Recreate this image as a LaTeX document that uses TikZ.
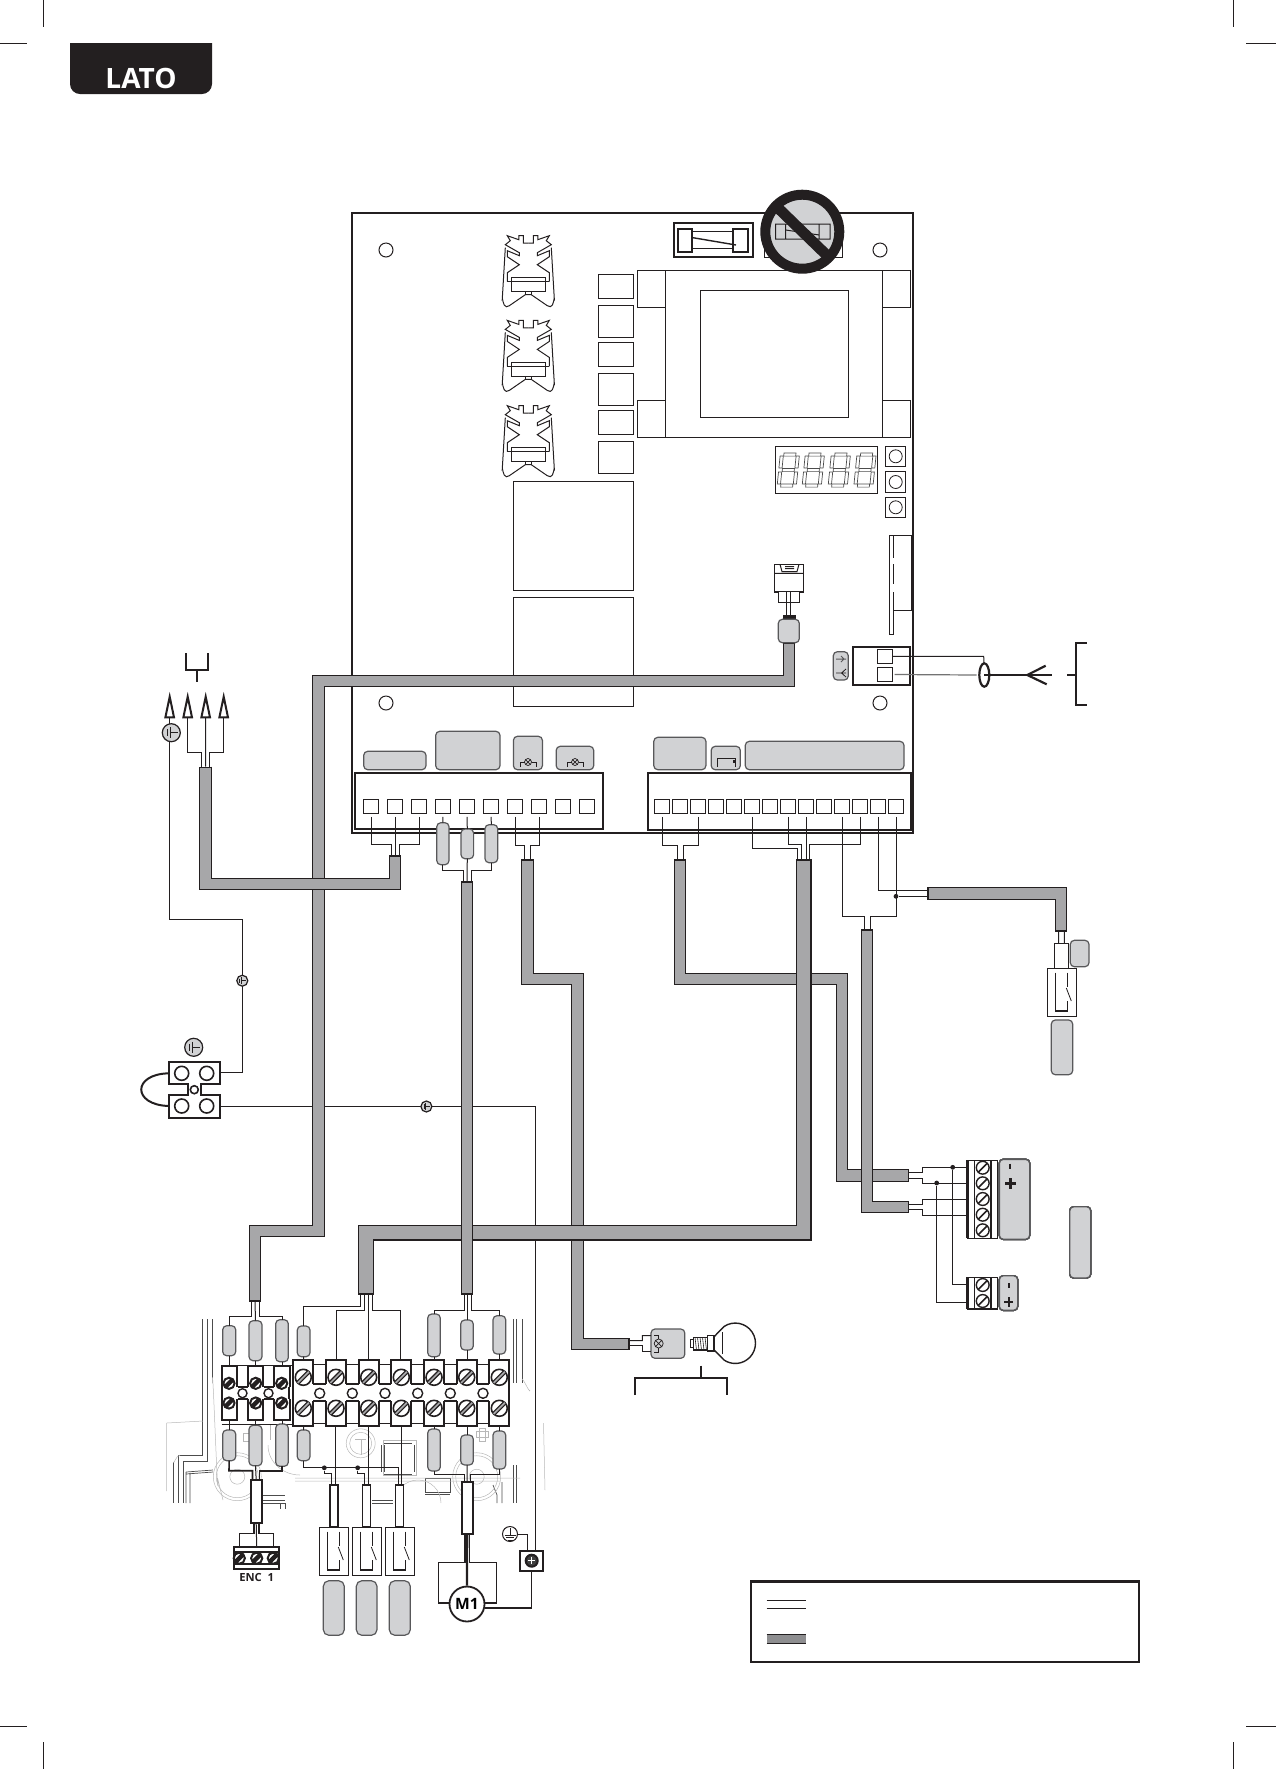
\documentclass[tikz,border=0pt]{standalone}
\usepackage{fontspec}
\setsansfont{Open Sans}
\usetikzlibrary{calc}
\definecolor{inkblack}{HTML}{231F20}
\definecolor{cablegrey}{HTML}{A7A7A9}
\definecolor{pillgrey}{HTML}{D1D2D4}
\definecolor{pillline}{HTML}{58585A}
\tikzset{
  thinbox/.style={draw=inkblack,line width=0.5pt,fill=white},
  heavybox/.style={draw=inkblack,line width=1.1pt,fill=white},
  pill/.style={draw=pillline,fill=pillgrey,line width=0.6pt,rounded corners=2pt},
  wire/.style={draw=inkblack,line width=0.5pt},
  heavywire/.style={draw=inkblack,line width=1.1pt},
  ghost/.style={draw=black!28,line width=0.25pt},
  ghostdark/.style={draw=black!70,line width=0.35pt},
  joint/.style={circle,fill=inkblack,inner sep=0pt,minimum size=2.4pt},
}
% box from its two corners, in pixels of the sheet
\newcommand{\boxat}[6]{\node[#1,inner sep=0pt,outer sep=0pt,minimum width={(#5-#3)*0.5pt},minimum height={(#6-#4)*0.5pt}] (#2) at ({(#3+#5)/2},{(#4+#6)/2}) {};}
% sheathed cable: dark body, then the grey fill
\newcommand{\cable}[2][6.4pt]{%
  \draw[inkblack,line width=#1,line join=miter] #2;
  \draw[cablegrey,line width=#1-1.1pt,line join=miter,shorten <=0.8pt,shorten >=0.8pt] #2;}
% one core from a terminal into a cable end
\newcommand{\drop}[5][wire]{\draw[#1] (#2) |- ($(#3)+(#4,#5)$) -- ($(#3)+(#4,0)$);}
\newcommand{\heatsink}[2]{%
  \begin{scope}[shift={(#1,#2)}]
    \foreach \s in {1,-1} {
      \draw[wire,xscale=\s] (0,7.5) -- (5,7.5) -- (5,0) -- (9.5,0) -- (9.5,4) -- (21,0) -- (18,5) -- (23,9)
        -- (9,17) -- (9,20) -- (21,15) -- (21,21) -- (9,29) -- (21,37) -- (21,46);
      \draw[wire,xscale=\s] (23,12) -- (26,63) to[out=90,in=0] (22,71) -- (19,70) -- (3,59) -- (0,59);
    }
    \draw[wire] (-21,46) -- (21,46);
    \draw[wire] (-17,42) rectangle (17,56);
    \draw[wire] (-3,56) rectangle (3,59);
  \end{scope}}
% display digit, seven outlined segments
\newcommand{\segdigit}[2]{%
  \begin{scope}[shift={(#1,#2)},xslant=0.1]
    \foreach \y in {-15.5,0,15.5} \draw[ghostdark] (-6,\y-1.6) rectangle (6,\y+1.6);
    \foreach \x in {-8,8} \foreach \y in {-8,8} \draw[ghostdark] (\x-1.6,\y-6) rectangle (\x+1.6,\y+6);
  \end{scope}}
\newcommand{\fatscrew}[2]{%
  \draw[inkblack,line width=0.8pt,fill=white] (#1,#2) circle (8);
  \draw[inkblack,line width=2.2pt] (#1-5.6,#2+5.6) -- (#1+5.6,#2-5.6);
  \draw[cablegrey,line width=0.8pt] (#1-5.6,#2+5.6) -- (#1+5.6,#2-5.6);}
\newcommand{\darkscrew}[2]{%
  \draw[inkblack,line width=1pt,fill=white] (#1,#2) circle (5.6);
  \draw[inkblack,line width=2.2pt] (#1-4,#2+4) -- (#1+4,#2-4);}
\newcommand{\thinscrew}[2]{%
  \draw[inkblack,line width=0.7pt,fill=white] (#1,#2) circle (6.4);
  \draw[inkblack,line width=0.8pt] (#1-4.5,#2+4.5) -- (#1+4.5,#2-4.5);}
\newcommand{\lampmark}[2]{%
  \draw[wire,line width=0.35pt] (#1-8,#2+5) -- (#1-8,#2) -- (#1-3.5,#2) (#1+3.5,#2) -- (#1+8,#2) -- (#1+8,#2+5);
  \draw[wire,line width=0.35pt] (#1,#2) circle (3.5) (#1-2.5,#2-2.5) -- (#1+2.5,#2+2.5) (#1-2.5,#2+2.5) -- (#1+2.5,#2-2.5);}
\newcommand{\earthmark}[3]{%
  \draw[inkblack,line width=0.6pt,fill=pillgrey] (#1,#2) circle (#3);
  \draw[inkblack,line width=0.4pt] (#1-0.45*#3,#2-0.4*#3) -- (#1-0.45*#3,#2+0.4*#3) (#1-0.15*#3,#2-0.6*#3) -- (#1-0.15*#3,#2+0.6*#3) (#1-0.15*#3,#2) -- (#1+0.7*#3,#2);}
\newcommand{\contact}[3]{%
  \begin{scope}[shift={(#2,#3)}]
    \boxat{thinbox}{#1}{0}{0}{29.4}{48.7}
    \draw[wire,line width=0.6pt] (8,4.7) -- (8,43) -- (20,43) -- (20,33) (20,4.7) -- (20,19);
    \draw[wire,line width=0.4pt] (19,20) -- (24,33);
  \end{scope}}
\begin{document}
\begin{tikzpicture}[x=0.5pt,y=-0.5pt]
\useasboundingbox (0,0) rectangle (1276,1769);
% crop marks
\foreach \x in {43,1233} {
  \draw[wire] (\x,0) -- (\x,27);
  \draw[wire] (\x,1742) -- (\x,1769);
}
\foreach \y in {43,1726} {
  \draw[wire] (0,\y) -- (27,\y);
  \draw[wire] (1246,\y) -- (1276,\y);
}
% side tab
\fill[inkblack] (70,43) -- (212,43) -- (212,84) arc[start angle=0,end angle=90,radius=10] -- (80,94) arc[start angle=90,end angle=180,radius=10] -- cycle;
\node[white,font=\sffamily\bfseries\fontsize{14}{15}\selectfont] (sidetab) at (141,78) {LATO};

% board
\draw[wire,line width=0.6pt] (352,213) rectangle (913,833);
\foreach \x in {386,880} \foreach \y in {250,703} \draw[wire] (\x,\y) circle (7);
% fuses
\boxat{heavybox,line width=1pt}{fuseA}{674.3}{223}{753.3}{257}
\draw[inkblack,line width=1pt] (678,229) rectangle (692,252) (733,229) rectangle (748,252);
\draw[wire] (692,231) -- (733,231) (692,248) -- (733,248);
\draw[inkblack,line width=0.7pt] (693,237.7) -- (736,245);
\boxat{thinbox}{fuseB}{764}{223}{842}{257}
\draw[inkblack,line width=5pt,fill=pillgrey] (802.3,231.7) circle (37);
\draw[wire] (775.7,224) rectangle (830,239) (785.7,224) -- (785.7,239) (819,224) -- (819,239) (785.7,230) -- (819.3,235);
\draw[inkblack,line width=5.4pt] (776.7,206.7) -- (828.3,256.7);
% transformer
\draw[wire] (665,307.5) -- (637.5,307.5) -- (637.5,270) -- (910,270) -- (910,307.5) -- (882,307.5);
\draw[wire] (665,400) -- (637.5,400) -- (637.5,437) -- (910,437) -- (910,400) -- (882,400);
\draw[wire] (665,270) -- (665,437) (882,270) -- (882,437);
\boxat{thinbox}{core}{700}{290}{848}{417.5}
% relays and heat sinks
\foreach \a/\b [count=\i] in {274/298.6,305/337.5,342.5/366.8,373/405.7,410.4/434.6,441.4/473.6} {
  \boxat{thinbox}{relay\i}{598}{\a}{633}{\b}
}
\boxat{thinbox}{bigrelayA}{513}{481.4}{633}{590.7}
\boxat{thinbox}{bigrelayB}{513}{597.5}{633}{706.4}
\heatsink{528.3}{235.7}
\heatsink{528.3}{320.4}
\heatsink{528.3}{405.7}
% display and keys
\boxat{thinbox}{display}{775.3}{446}{877.7}{493.3}
\foreach \x in {788.3,813.3,839.3,865} \segdigit{\x}{470}
\foreach \y [count=\i] in {456.3,482,507.3} {
  \boxat{thinbox,line width=0.4pt}{key\i}{885.7}{(\y-10.2)}{905.7}{(\y+10.2)}
  \draw[wire,line width=0.4pt] (895.7,\y) circle (6.5);
}
% slot on the right
\draw[wire] (893.3,535) -- (911.7,535) -- (911.7,610.3) -- (893.3,610.3);
\draw[thinbox] (889.3,535) rectangle (893.3,634);
\draw[white,line width=0.7pt] (893.3,558) -- (893.3,564) (893.3,584) -- (893.3,592);
% service connector
\boxat{thinbox,line width=0.8pt}{plug}{774.3}{564.3}{803.3}{591.7}
\draw[wire] (774.3,573.3) -- (803.3,573.3) (780,564.3) -- (782,571.5) -- (797,571.5) -- (799,564.3) (785,566.5) -- (794,566.5) (785,568.5) -- (794,568.5);
\boxat{thinbox}{plugfoot}{778.3}{591.7}{799.3}{602.3}
\draw[wire] (786,591.7) -- (786,615.3) (790.7,591.7) -- (790.7,615.3);
% blocks on the board
\boxat{heavybox}{blockL}{355.3}{772.7}{603.3}{829.3}
\boxat{heavybox}{blockR}{647.7}{772.7}{910.6}{830.3}
\foreach \i in {1,...,10} {
  \node[thinbox,inner sep=0pt,outer sep=0pt,minimum width=7.2pt,minimum height=7.2pt] (L\i) at ({371+24*(\i-1)},806.5) {};
}
\foreach \i in {1,...,14} {
  \node[thinbox,inner sep=0pt,outer sep=0pt,minimum width=7.6pt,minimum height=7.2pt] (R\i) at ({662+18*(\i-1)},806.5) {};
}
\boxat{pill}{tagA}{363.7}{751.3}{426}{769.7}
\boxat{pill}{tagB}{435.7}{731.3}{500}{769.7}
\boxat{pill}{tagC}{513.4}{736.3}{542.4}{769.7}
\boxat{pill}{tagD}{556.2}{746.3}{593.7}{769.7}
\boxat{pill}{tagE}{653.8}{737.3}{705.9}{769.7}
\boxat{pill}{tagF}{711.2}{746.3}{740.3}{769.7}
\boxat{pill}{tagG}{745.3}{741.3}{904}{769.7}
\lampmark{528}{762}
\lampmark{575}{762}
\draw[wire,line width=0.4pt] (717,767) -- (717,758) -- (735,758) -- (735,767);
\fill[inkblack] (733,760) rectangle (736,763);
% mains inlet
\boxat{heavybox}{inlet}{852.7}{646.7}{910}{685}
\boxat{thinbox}{inletA}{877.3}{649.3}{892.7}{663.3}
\boxat{thinbox}{inletB}{877.3}{667.3}{892.7}{681.7}
\boxat{pill}{inletTag}{833.3}{651.7}{848.3}{680}
\draw[pillline,line width=0.5pt] (836,659) -- (846,659) (841,656) -- (844,659) -- (841,662);
\draw[inkblack,line width=0.4pt] (836,673) -- (846,673) (846,669) -- (841.5,673) -- (846,677);
\coordinate (sleeve) at (984.3,675);
\draw[wire] (inletA.east) -- ++(91,0) -- (984,663.3);
\draw[black!55,line width=0.6pt] (inletB.east) ++(2,0) -- (976.7,675);
\draw[inkblack,line width=1.1pt] (sleeve) ellipse (5 and 11.7);
\draw[heavywire] (sleeve) -- (1051.7,675);
\draw[heavywire,line join=miter] (1045.7,665.7) -- (1027.3,675) -- (1046.7,684.3);
\draw[heavywire] (1067.3,675) -- (1076,675) (1086.7,642.7) -- (1076,642.7) -- (1076,705.3) -- (1086.7,705.3);

% ghost outline of the gear plate
\foreach \x in {202.3,207.3,212.3,513.3,516,522.3} \draw[ghostdark] (\x,1319) -- (\x,1383);
\draw[ghostdark] (202.3,1383) -- (202.3,1455) -- (178.3,1455) -- (178.3,1503);
\draw[ghostdark] (207.3,1383) -- (207.3,1461) -- (183,1461) -- (183,1503);
\draw[ghostdark] (173.3,1462) -- (173.3,1503);
\draw[ghost] (173.3,1462) to[out=270,in=180] (180,1455);
\draw[ghost] (166.7,1491) -- (166.7,1423) -- (203,1421);
\draw[ghost] (212.3,1383) to[out=90,in=270] (218,1480) -- (223,1500);
\draw[ghostdark] (186,1472) -- (213,1470) (186,1474) -- (213,1472) (186,1472) -- (186,1503) (190,1473) -- (190,1503);
\draw[ghostdark] (263,1495) -- (285,1495) (263,1500) -- (285,1500) (263,1503) -- (285,1503) -- (285,1509) (280,1503) -- (280,1509);
\draw[ghostdark] (513.3,1465) -- (513.3,1503) (516,1465) -- (516,1503);
\draw[ghostdark] (493,1485) -- (497,1495) -- (497,1503) (502,1482) -- (502,1503);
\draw[ghost] (522,1380) to[out=90,in=270] (530,1390) (543.5,1423) -- (545,1490);
\foreach \x in {237.3,476.7} {
  \draw[ghost] (\x,1476.7) circle (7.5) circle (21) circle (24);
}
\draw[ghost] (360.7,1443.3) circle (11) circle (14.5);
\draw[ghost] (355,1439) -- (366,1439) (361,1439) -- (361,1455);
\draw[ghost] (383,1440) rectangle (416,1475);
\draw[ghostdark] (381,1445) -- (381,1472) (384,1445) -- (384,1472) (414,1445) -- (414,1472) (384,1443) -- (412,1443) (384,1474) -- (412,1474);
\draw[ghostdark] (425,1478) rectangle (450,1492) (425,1494) -- (450,1494);
\draw[ghost] (476,1431) rectangle (488,1437) (479,1428) rectangle (485,1441);
\draw[ghost] (270,1424) -- (270,1440) (243,1433) -- (250,1433) (243,1433) -- (243,1441) -- (250,1441);
\draw[ghost] (268,1445) to[out=270,in=180] (300,1475) (295,1478) -- (520,1478) (295,1481) -- (500,1481);
\draw[ghost] (395,1503) arc[start angle=180,end angle=360,radius=23];
\draw[ghostdark] (372,1500) -- (393,1500) (372,1503) -- (393,1503);

% earth wires
\draw[wire] (169.7,717.3) -- (169.7,919.3) -- (242.3,919.3) -- (242.3,1072.3) -- (220.7,1072.3);
\draw[wire] (220.7,1106.5) -- (535,1106.5) -- (535,1551);
\earthmark{242.3}{980.7}{5.5}
\earthmark{426.4}{1106.5}{5.5}

% cables
\coordinate (encTop) at (789,642);
\coordinate (encEnd) at (255,1301.7);
\coordinate (mainsEnd) at (205.5,766.7);
\coordinate (boardMains) at (395,855);
\coordinate (motorTop) at (467,881);
\coordinate (motorEnd) at (467,1295);
\coordinate (lampTop) at (527.5,859);
\coordinate (lampEnd) at (630,1344);
\coordinate (battTopA) at (680,859);
\coordinate (battEndA) at (909.3,1175.5);
\coordinate (stripTop) at (803.5,859);
\coordinate (stripEnd) at (366.3,1295);
\coordinate (battTopB) at (867,929);
\coordinate (battEndB) at (909.3,1207);
\coordinate (edgeTop) at (927,893.3);
\coordinate (edgeEnd) at (1061,932);
\cable{(encTop) -- (789,681) -- (318.7,681) -- (318.7,1231) -- (255,1231) -- (encEnd)}
\cable{(mainsEnd) -- (205.5,884) -- (395,884) -- (boardMains)}
\cable{(lampTop) -- (527.5,979) -- (577.5,979) -- (577.5,1344) -- (lampEnd)}
\cable{(battTopA) -- (680,979) -- (842,979) -- (842,1175.5) -- (battEndA)}
\cable[8pt]{(stripTop) -- (803.5,1232.5) -- (366.3,1232.5) -- (stripEnd)}
\cable{(motorTop) -- (motorEnd)}
\cable{(battTopB) -- (867,1207) -- (battEndB)}
\cable{(edgeTop) -- (1061,893.3) -- (edgeEnd)}

% service lead into its pill
\fill[inkblack] (782.7,615.3) rectangle (795.7,620);
\boxat{pill}{plugPill}{778.3}{619.3}{799.3}{642.7}

% mains plug
\draw[heavywire] (185.7,653.3) -- (185.7,670) -- (208.3,670) -- (208.3,653.3);
\draw[heavywire] (197,670) -- (197,682.3);
\foreach \x [count=\i] in {169.7,187.7,205.7,223.7} {
  \node[inner sep=0pt,minimum size=0pt] (pin\i) at (\x,717.3) {};
  \draw[heavywire,line width=1pt,line join=miter,fill=white] (\x-4.3,717.3) -- (\x,696.7) -- (\x+4.3,717.3) -- cycle;
}
\drop{pin2}{mainsEnd}{-3.8}{-14.4}
\drop{pin4}{mainsEnd}{4.2}{-14.4}
\draw[wire] (pin3) -- (mainsEnd);
\earthmark{171.3}{732.7}{9}

% earth clamp
\draw[inkblack,line width=1pt,fill=white] (169,1062) -- (220,1062) -- (220,1084.3) -- (200.7,1084.3) -- (200.7,1095) -- (220,1095) -- (220,1118) -- (169,1118) -- (169,1095) -- (188,1095) -- (188,1084.3) -- (169,1084.3) -- cycle;
\foreach \x in {181.7,206.7} \foreach \y in {1073.3,1106} \draw[inkblack,line width=0.8pt] (\x,\y) circle (7);
\draw[inkblack,line width=0.8pt] (194.3,1089.7) circle (4);
\draw[inkblack,line width=1pt] (169,1073.3) .. controls (132,1074) and (132,1105) .. (169,1106);
\earthmark{193.7}{1047.3}{9}

% core groups under the board
\drop[wire,shorten <=1.6pt]{L1.south}{boardMains}{-3.6}{-10.7}
\drop[wire,shorten <=1.6pt]{L3.south}{boardMains}{4.2}{-10.7}
\draw[wire,shorten <=1.6pt] (L2.south) -- (L2 |- boardMains);
\boxat{pill}{motorPillA}{436.8}{822.7}{449}{864.7}
\boxat{pill}{motorPillB}{461}{829}{473.6}{858.7}
\boxat{pill}{motorPillC}{485}{824.7}{497.7}{862.7}
\draw[wire,shorten <=1.6pt] (L4.south) -- (motorPillA.north);
\draw[wire,shorten <=1.6pt] (L5.south) -- (motorPillB.north);
\draw[wire,shorten <=1.6pt] (L6.south) -- (motorPillC.north);
\drop{motorPillA.south}{motorTop}{-3.8}{-10.3}
\drop{motorPillC.south}{motorTop}{4.3}{-10.3}
\draw[wire] (motorPillB.south) -- (motorTop);
\drop[wire,shorten <=1.6pt]{L7.south}{lampTop}{-3}{-13.3}
\drop[wire,shorten <=1.6pt]{L8.south}{lampTop}{3}{-13.3}
\drop[wire,shorten <=1.6pt]{R1.south}{battTopA}{-2.8}{-13.3}
\drop[wire,shorten <=1.6pt]{R3.south}{battTopA}{3.3}{-13.3}
\drop[wire,shorten <=1.6pt]{R6.south}{stripTop}{-5.8}{-10.7}
\drop[wire,shorten <=1.6pt]{R8.south}{stripTop}{-2}{-14.7}
\draw[wire,shorten <=1.6pt] (R9.south) -- (R9 |- stripTop);
\drop[wire,shorten <=1.6pt]{R12.south}{stripTop}{6.1}{-14.7}
\drop[wire,shorten <=1.6pt]{R11.south}{battTopB}{-2.3}{-12.3}
\drop[wire,shorten <=1.6pt]{R14.south}{battTopB}{3.4}{-12.3}
\draw[wire,shorten <=1.6pt] (R13.south) |- ($(edgeTop)+(0,-3)$);
\node[joint] (edgeJoint) at (R14 |- 0,896.3) {};
\draw[wire] (edgeJoint) -- ($(edgeTop)+(0,3)$);

% sensor on the edge
\draw[wire] ($(edgeEnd)+(-2.3,0)$) -- (1058.7,943.3) (1064.3,932) -- (1064.3,943.3);
\draw[wire] (1054.3,968.3) -- (1054.3,943.3) -- (1068.3,943.3) -- (1068.3,968.3);
\contact{edgeSwitch}{1047.3}{968}
\boxat{pill}{edgeTagA}{1070.3}{940.3}{1089}{966.7}
\boxat{pill}{edgeTagB}{1051.3}{1020}{1072.7}{1074.7}

% lamp
\boxat{pill}{lampTag}{651}{1329}{684.8}{1358.3}
\draw[wire] (lampEnd) ++(0,-3.3) -- (642.3,1340.7) -- (642.3,1335.7) -- (lampTag.west |- 0,1335.7);
\draw[wire] (lampEnd) ++(0,1.7) -- (642.3,1345.7) -- (642.3,1351.7) -- (lampTag.west |- 0,1351.7);
\draw[wire,line width=0.35pt] (654,1335) -- (658.7,1335) -- (658.7,1339) (658.7,1348) -- (658.7,1352) -- (654,1352);
\draw[wire,line width=0.35pt] (658.7,1343.5) circle (4.5) (655.5,1340.3) -- (661.9,1346.7) (655.5,1346.7) -- (661.9,1340.3);
\draw[thinbox] (690,1339.3) rectangle (693.6,1347.7);
\draw[thinbox,line width=0.7pt] (693.6,1337.3) rectangle (707.3,1350);
\foreach \x in {695,697.5,700,702.5,705} \draw[wire,line width=0.3pt] (\x,1337.3) -- (\x+1.5,1350);
\draw[thinbox,line width=0.7pt] (707.3,1335.7) rectangle (713.8,1351);
\draw[wire,line width=0.7pt] (713.8,1337) -- (724,1326.5) arc[start angle=236,end angle=484,radius=20.2] -- (713.8,1349.6);
\draw[wire] (722.6,1332) -- (722.6,1354);
\draw[heavywire] (700.8,1365.7) -- (700.8,1377.7) (634.6,1395) -- (634.6,1377.7) -- (727.2,1377.7) -- (727.2,1395);

% battery and supply blocks
\foreach \top/\bot/\nm in {1160.3/1238.3/battA,1277.3/1309/battB} {
  \boxat{thinbox,line width=0.7pt}{\nm}{967.7}{\top}{997.7}{\bot}
  \draw[inkblack,line width=1.3pt] (967.7,\top) -- (967.7,\bot);
  \draw[wire] (974.7,\top) -- (974.7,\bot);
  \draw[inkblack,line width=1pt] (990.7,\top) -- (990.7,\bot);
}
\foreach \y in {1167.7,1183.3,1199,1214.7,1230.3,1285,1301} \thinscrew{982.7}{\y}
\boxat{pill,line width=0.7pt}{battTagA}{999.3}{1159.3}{1029.7}{1239.3}
\boxat{pill,line width=0.7pt}{battTagB}{999.3}{1275.7}{1017.7}{1310.3}
\boxat{pill,line width=0.7pt}{battTagC}{1069.7}{1206.7}{1090.7}{1278}
\draw[inkblack,line width=1.1pt] (1010.3,1163.5) -- (1010.3,1168.5);
\draw[inkblack,line width=1.3pt] (1005,1183.3) -- (1015.7,1183.3) (1010.3,1178) -- (1010.3,1188.6);
\draw[inkblack,line width=1.1pt] (1008.7,1283) -- (1008.7,1288);
\draw[inkblack,line width=1pt] (1004,1302) -- (1013.4,1302) (1008.7,1297.3) -- (1008.7,1306.7);
\coordinate (batA) at (967.7,1167.3);
\coordinate (batB) at (967.7,1183);
\coordinate (batC) at (967.7,1199.3);
\coordinate (batD) at (967.7,1215.3);
\draw[wire] ($(battEndA)+(0,-2.8)$) -| (922.3,1167.3) -- (batA);
\draw[wire] ($(battEndA)+(0,2.8)$) -| (922.3,1183) -- (batB);
\draw[wire] ($(battEndB)+(0,-2.8)$) -| (922.3,1199.3) -- (batC);
\draw[wire] ($(battEndB)+(0,2.8)$) -| (922.3,1215.3) -- (batD);
\node[joint] (batJointA) at (952.7,1167.3) {};
\node[joint] (batJointB) at (936.7,1183) {};
\draw[wire] (batJointA) |- (967.7,1284.3);
\draw[wire] (batJointB) |- (967.7,1302.3);

% encoder terminal block
\draw[inkblack,line width=0.5pt] (221.7,1365) -- (293.3,1365) (221.7,1424) -- (293.3,1424);
\fill[white] (221.7,1366) rectangle (289.3,1420);
\foreach \x in {229.5,255.5,281.7} {
  \draw[inkblack,line width=1pt] (\x-7.8,1387.3) |- (\x+7.8,1366) -- (\x+7.8,1387.3);
  \draw[inkblack,line width=1pt] (\x-7.8,1398.7) |- (\x+7.8,1420) -- (\x+7.8,1398.7);
}
\foreach \x in {242.5,268.5} {
  \draw[inkblack,line width=1pt] (\x-5,1387.3) -- (\x+5,1387.3) (\x-5,1398.7) -- (\x+5,1398.7);
  \draw[inkblack,line width=0.7pt,fill=white] (\x,1393.2) circle (4.5);
}
\draw[inkblack,line width=1pt] (221.7,1387.3) -- (221.7,1398.7) (289.4,1387.3) -- (289.4,1398.7);
\foreach \x in {229,255.7,281.7} {
  \darkscrew{\x}{1383.3}
  \darkscrew{\x}{1403}
}
% main terminal strip
\fill[white] (293.3,1360) rectangle (510,1425.7);
\foreach \x in {303.3,336,368.7,401.3,434,466.7,499.3} {
  \draw[inkblack,line width=0.9pt] (\x-10,1384.3) |- (\x+10,1360) -- (\x+10,1384.3);
  \draw[inkblack,line width=0.9pt] (\x-10,1401.3) |- (\x+10,1425.7) -- (\x+10,1401.3);
  \fatscrew{\x}{1377.3}
  \fatscrew{\x}{1408.3}
}
\foreach \x in {319.7,352.3,385,417.7,450.3,483} {
  \draw[inkblack,line width=0.9pt] (\x-6.3,1384.3) -- (\x+6.3,1384.3) (\x-6.3,1401.3) -- (\x+6.3,1401.3);
  \draw[inkblack,line width=0.35pt] (\x-6.3,1364.3) -- (\x+6.3,1364.3) (\x-6.3,1423.3) -- (\x+6.3,1423.3);
  \draw[inkblack,line width=0.7pt,fill=white] (\x,1393.3) circle (5);
}
\draw[inkblack,line width=0.9pt] (293.3,1384.3) -- (293.3,1401.3) (509.3,1384.3) -- (509.3,1401.3);
% pills over and under the strip
\foreach \nm/\xa/\xb/\ya/\yb/\yc/\yd in {
  encA/222.7/235.7/1325.7/1355.7/1430/1460.7,
  encB/249/262/1320.7/1360.7/1425.3/1465.7,
  encC/275.7/288.3/1319.7/1361.7/1424/1466.3,
  stripA/297.3/310/1326/1356.7/1430/1460.7,
  motA/427.7/440.3/1314/1356.7/1429/1471,
  motB/460.7/473.3/1320/1350/1435/1465,
  motC/493/505.7/1315.7/1354/1431/1469} {
  \boxat{pill}{\nm Up}{\xa}{\ya}{\xb}{\yb}
  \boxat{pill}{\nm Lo}{\xa}{\yc}{\xb}{\yd}
}
% wires over the strip
\drop{encAUp.north}{encEnd}{-3.7}{15}
\drop{encCUp.north}{encEnd}{4.3}{15}
\draw[wire] (encBUp.north) -- (encEnd);
\foreach \nm/\y in {encA/1366,encB/1366,encC/1366} {
  \draw[wire] (\nm Up.south) -- (\nm Up.south |- 0,\y);
  \draw[wire] (\nm Lo.north) -- (\nm Lo.north |- 0,1420);
}
\drop{stripAUp.north}{stripEnd}{-5.6}{11}
\draw[wire] (stripAUp.south) -- (303.6,1360);
\draw[wire] (stripALo.north) -- (303.6,1425.7);
\draw[wire] (336,1360) |- ($(stripEnd)+(-2.3,15)$) -- ($(stripEnd)+(-2.3,0)$);
\draw[wire] (368.7,1360) -- (368.7,1295);
\draw[wire] (400.3,1360) |- ($(stripEnd)+(6,15)$) -- ($(stripEnd)+(6,0)$);
\drop{motAUp.north}{motorEnd}{-3}{15}
\drop{motCUp.north}{motorEnd}{4.7}{15}
\draw[wire] (motBUp.north) -- (motorEnd);
\foreach \nm in {motA,motB,motC} {
  \draw[wire] (\nm Up.south) -- (\nm Up.south |- 0,1360);
  \draw[wire] (\nm Lo.north) -- (\nm Lo.north |- 0,1425.7);
}
% sleeves towards the devices
\boxat{thinbox,line width=0.9pt}{encSleeve}{250.7}{1480}{261.7}{1522.7}
\boxat{thinbox,line width=0.9pt}{motorSleeve}{461.7}{1482}{472.7}{1534}
\boxat{thinbox,line width=0.9pt}{switchSleeveA}{329.7}{1485}{338}{1527}
\boxat{thinbox,line width=0.7pt}{switchSleeveB}{362.3}{1485}{370.3}{1527}
\boxat{thinbox,line width=0.7pt}{switchSleeveC}{395.3}{1485}{403.3}{1527}
\draw[inkblack,line width=0.8pt] (encALo.south) -- (229,1470.7) -- (252.5,1470.7) -- (252.5,1480);
\draw[inkblack,line width=0.8pt] (encCLo.south) -- (282,1470.7) -- (259.5,1470.7) -- (259.5,1480);
\draw[wire] (encBLo.south) -- (encSleeve.north);
\draw[wire] (motALo.south) |- (464,1474.7) -- (464,1482);
\draw[wire] (motCLo.south) |- (470.7,1474) -- (470.7,1482);
\draw[wire] (motBLo.south) -- (motorSleeve.north);
\draw[wire] (stripALo.south) |- (398,1467.3) -- (398,1485);
\node[joint] (stripJointA) at (324.3,1467.8) {};
\node[joint] (stripJointB) at (357.7,1467.8) {};
\draw[wire] (stripJointA) |- (331,1473.3) -- (331,1485);
\draw[wire] (stripJointB) |- (364,1473.3) -- (364,1485);
\draw[wire] (335,1425.7) -- (335,1485);
\draw[wire] (368.3,1425.7) -- (368.3,1485);
\draw[wire] (401.3,1425.7) -- (401.3,1485);
% three switches
\contact{switchA}{319.3}{1527}
\contact{switchB}{352.3}{1527}
\contact{switchC}{385.3}{1527}
\boxat{pill,rounded corners=2.8pt}{switchTagA}{323.3}{1580.7}{344.3}{1635.3}
\boxat{pill,rounded corners=2.8pt}{switchTagB}{356.3}{1580.7}{377}{1635.3}
\boxat{pill,rounded corners=2.8pt}{switchTagC}{389.3}{1580.7}{410.3}{1635.3}
% encoder plug
\boxat{thinbox,line width=1pt}{encPlug}{234}{1546.7}{279.3}{1569.3}
\draw[inkblack,line width=0.9pt] (234,1552) -- (279.3,1552) (234,1564) -- (279.3,1564);
\foreach \x in {239.3,256.7,273.3} \darkscrew{\x}{1558.2}
\draw[wire,line width=0.7pt] (239.3,1546.7) -- (239.3,1533.3) -- (254,1533.3) -- (254,1522.7);
\draw[wire,line width=0.7pt] (273.3,1546.7) -- (273.3,1533.3) -- (259,1533.3) -- (259,1522.7);
\draw[wire] (encSleeve.south) -- (256.7,1546.7);
\node[inkblack,font=\sffamily\bfseries\fontsize{5.6}{6}\selectfont] (encLabel) at (256.7,1577.7) {ENC\ \ 1};
% motor and its earth post
\node[draw=inkblack,fill=white,circle,line width=0.9pt,inner sep=0pt,minimum size=17.5pt,font=\sffamily\bfseries\fontsize{7.8}{8}\selectfont] (motor) at (467,1604) {M1};
\draw[heavywire] (motorSleeve.south) -- (motor.north);
\draw[wire,line width=0.7pt] (465,1534) -- (465,1562.7) -- (438.3,1562.7) -- (438.3,1602.7);
\draw[wire,line width=0.7pt] (469.3,1534) -- (469.3,1562.7) -- (496.7,1562.7) -- (496.7,1602.7);
\draw[heavywire] (438.3,1602.7) -- (450,1602.7) (496.7,1602.7) -- (484,1602.7);
\boxat{thinbox,line width=0.9pt}{earthPost}{520}{1551}{543.3}{1571}
\draw[inkblack,line width=1pt,fill=black!75] (531.7,1560.7) circle (6);
\draw[white,line width=0.5pt] (528,1560.7) -- (535.4,1560.7) (531.7,1557) -- (531.7,1564.4);
\draw[wire] (531.7,1571) -- (531.7,1608.3);
\draw[heavywire] (531.7,1608.3) -- (motor.east |- 0,1608.3);
\node[draw=inkblack,fill=white,circle,line width=0.5pt,inner sep=0pt,minimum size=7.5pt] (earthTag) at (510,1534) {};
\draw[wire,line width=0.4pt] (510,1528) -- (510,1535) (504.5,1535) -- (515.5,1535) (506,1537.5) -- (514,1537.5) (507.5,1540) -- (512.5,1540);
\draw[wire] (earthTag.east) -- (527.3,1534) -- (527.3,1551);

% legend
\boxat{heavybox,line width=1.1pt}{legend}{751}{1581.5}{1139.3}{1661.6}
\draw[wire] (766.7,1600) -- (805.7,1600) (766.7,1608.3) -- (805.7,1608.3);
\fill[cablegrey!85!black] (766.7,1635) rectangle (805.7,1643.3);
\draw[inkblack,line width=0.5pt] (766.7,1634.5) -- (805.7,1634.5) (766.7,1643.6) -- (805.7,1643.6);
\end{tikzpicture}
\end{document}
